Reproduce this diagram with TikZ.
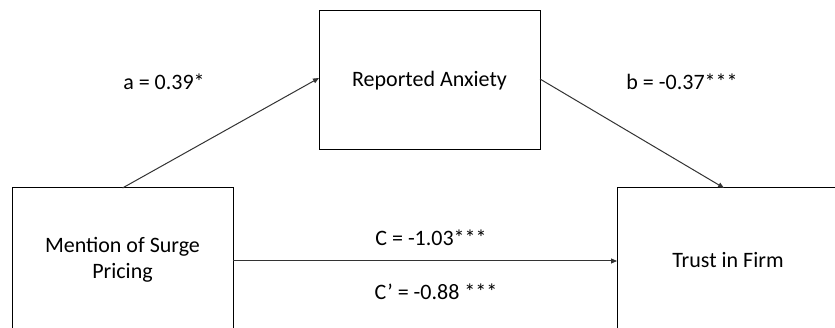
\documentclass[tikz,border=0pt]{standalone}
\usepackage{fontspec}
\setmainfont{Carlito}
\usetikzlibrary{arrows.meta}
\begin{document}
\begin{tikzpicture}[x=1pt,y=-1pt,
  box/.style={draw=black,line width=1pt,inner sep=0pt,outer sep=0pt,align=center,font=\fontsize{22}{26}\selectfont},
  lab/.style={inner sep=0pt,font=\fontsize{22}{26}\selectfont},
  arr/.style={draw=black!80,line width=1pt,-{Triangle[length=6pt,width=5pt]}}]
\useasboundingbox (0,0) rectangle (835,328);
\clip (0,0) rectangle (835,328);
\fill[white] (0,0) rectangle (835,328);
\node[box,minimum width=221pt,minimum height=144pt] (left) at (122.5,260) {Mention of Surge\\Pricing};
\node[box,minimum width=221pt,minimum height=139pt] (mid) at (429.5,80.5) {Reported Anxiety};
\node[box,minimum width=222pt,minimum height=144pt] (right) at (728,260) {Trust in Firm};
\draw[arr] (left.north) -- ([yshift=2.5pt]mid.west);
\draw[arr] ([yshift=1.5pt]mid.east) -- ([xshift=-4pt]right.north);
\draw[arr] ([yshift=-1pt]left.east) -- ([yshift=-1pt]right.west);
\node[lab] (la) at (164,82) {a = 0.39*};
\node[lab] (lb) at (682,82) {b = -0.37***};
\node[lab] (lc) at (431,238) {C = -1.03***};
\node[lab] (lcp) at (436,292) {C’ = -0.88 ***};
\end{tikzpicture}
\end{document}
